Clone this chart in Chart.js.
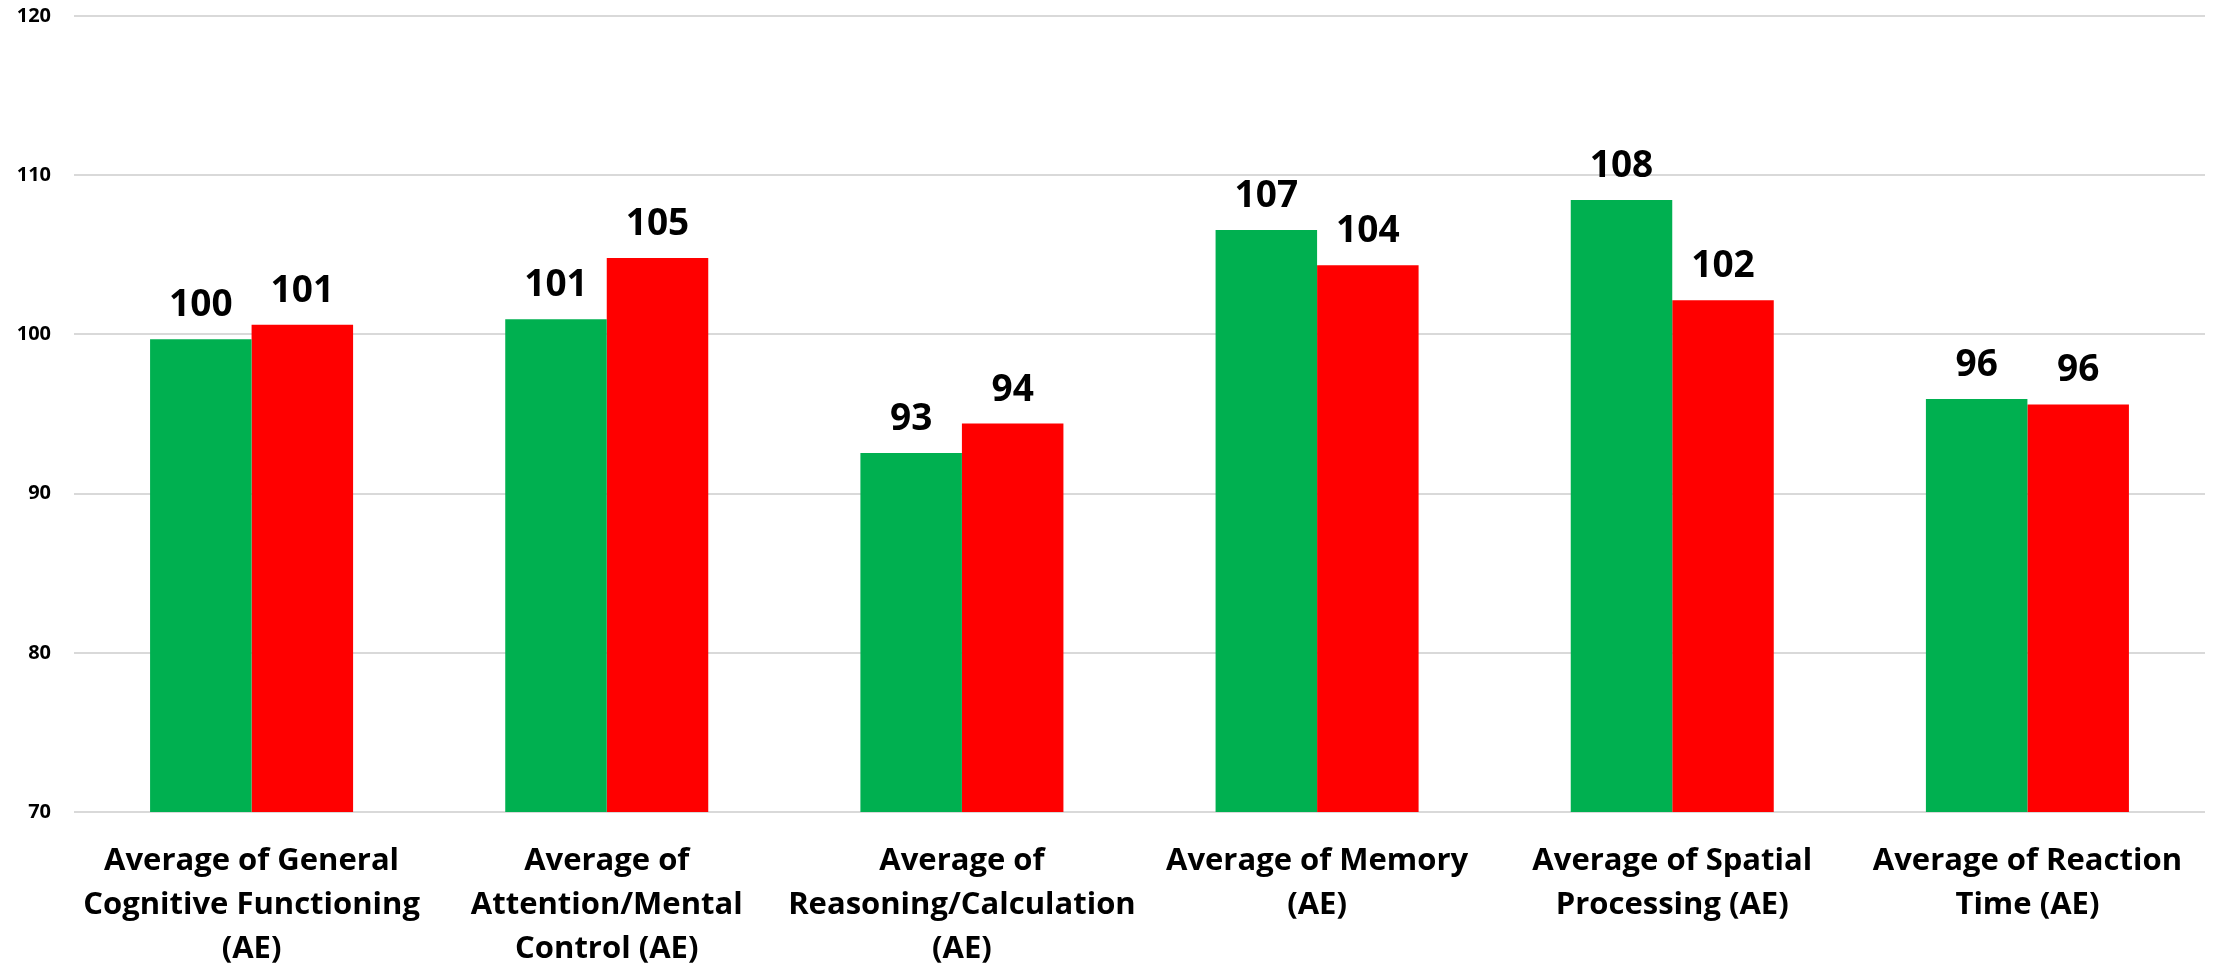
<!DOCTYPE html>
<html>
<head>
<meta charset="utf-8">
<title>Cognitive scores (AE)</title>
<script src="https://cdn.jsdelivr.net/npm/chart.js@4.4.1/dist/chart.umd.min.js"></script>
<style>
  html, body { margin: 0; padding: 0; background: #ffffff; }
  #wrap { width: 2216px; height: 971px; position: relative; }
</style>
</head>
<body>
<div id="wrap"><canvas id="chart" width="2216" height="971"></canvas></div>
<script>
// Domain categories, one label line per array entry
const categories = [
  ["Average of General", "Cognitive Functioning", "(AE)"],
  ["Average of", "Attention/Mental", "Control (AE)"],
  ["Average of", "Reasoning/Calculation", "(AE)"],
  ["Average of Memory", "(AE)"],
  ["Average of Spatial", "Processing (AE)"],
  ["Average of Reaction", "Time (AE)"]
];

// Mean scores for the two groups
const greenValues = [99.7, 100.95, 92.55, 106.55, 108.45, 95.95];
const redValues   = [100.6, 104.8, 94.4, 104.35, 102.15, 95.6];

// Value axis ticks
const yTicks = [70, 80, 90, 100, 110, 120];

const FONT = "'Open Sans', Lato, 'Liberation Sans', sans-serif";

// Rounded value labels above each bar
const valueLabels = {
  id: 'valueLabels',
  afterDatasetsDraw(chart) {
    const ctx = chart.ctx;
    ctx.save();
    ctx.font = "bold 37px " + FONT;
    ctx.fillStyle = '#000000';
    ctx.textAlign = 'center';
    ctx.textBaseline = 'alphabetic';
    chart.data.datasets.forEach((ds, di) => {
      const meta = chart.getDatasetMeta(di);
      meta.data.forEach((bar, i) => {
        ctx.fillText(Math.round(ds.data[i]).toString(), bar.x, bar.y - 23);
      });
    });
    ctx.restore();
  }
};

new Chart(document.getElementById('chart'), {
  type: 'bar',
  data: {
    labels: categories,
    datasets: [
      { label: 'Series 1', data: greenValues, backgroundColor: '#00B050', borderWidth: 0 },
      { label: 'Series 2', data: redValues,   backgroundColor: '#FF0000', borderWidth: 0 }
    ]
  },
  options: {
    responsive: false,
    animation: false,
    devicePixelRatio: 1,
    layout: { padding: { top: 16, right: 11, left: 0, bottom: 0 } },
    plugins: {
      legend: { display: false },
      title: { display: false },
      tooltip: { enabled: false }
    },
    datasets: {
      bar: { categoryPercentage: 0.5716, barPercentage: 1.0 }
    },
    scales: {
      x: {
        grid: { display: false, drawTicks: false },
        border: { display: false },
        ticks: {
          color: '#000000',
          padding: 27,
          maxRotation: 0,
          autoSkip: false,
          font: { family: FONT, size: 31, weight: 'bold', lineHeight: '44px' }
        },
        afterFit(scale) { scale.height = 159; }
      },
      y: {
        min: yTicks[0],
        max: yTicks[yTicks.length - 1],
        afterBuildTicks(scale) { scale.ticks = yTicks.map(v => ({ value: v })); },
        grid: { color: '#d9d9d9', lineWidth: 2, drawTicks: false },
        border: { display: false },
        ticks: {
          color: '#000000',
          padding: 23,
          font: { family: FONT, size: 20, weight: 'bold' }
        },
        afterFit(scale) { scale.width = 74; scale.paddingTop = 0; scale.paddingBottom = 0; }
      }
    }
  },
  plugins: [valueLabels]
});
</script>
</body>
</html>
